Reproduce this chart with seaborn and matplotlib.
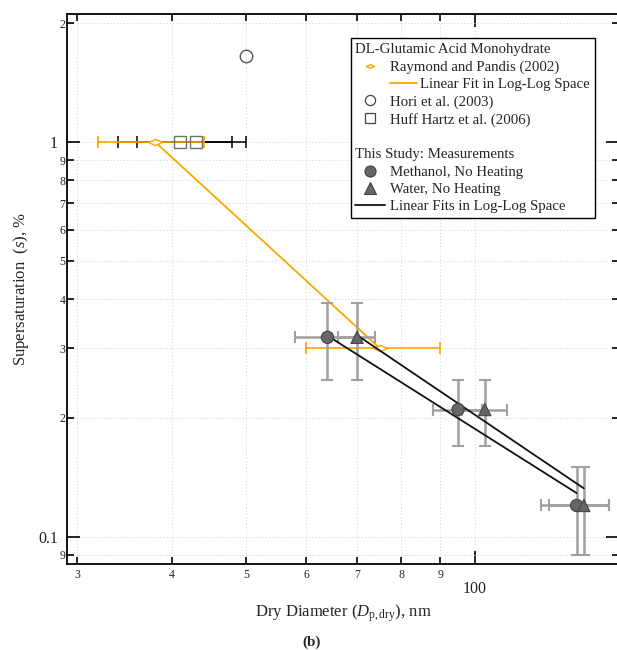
import numpy as np
import pandas as pd
import matplotlib
matplotlib.use("Agg")
import matplotlib.pyplot as plt
import seaborn as sns
from matplotlib.lines import Line2D
from matplotlib.path import Path
from matplotlib.ticker import FixedLocator, FixedFormatter

# ---- data -------------------------------------------------------------
# Raymond and Pandis (2002)
rp_diam = [38, 75]
rp_ss = [1.0, 0.30]
rp_xerr = [6, 15]
rp_fit_diam = [38, 75]
rp_fit_ss = [1.0, 0.30]

# Hori et al. (2003)
hori_diam = [50]
hori_ss = [1.65]

# Huff Hartz et al. (2006)
hh_diam = [41, 43]
hh_ss = [1.0, 1.0]
hh_xerr = [7, 7]

# This study: methanol and water atomized, no heating
meth_diam = [64, 95, 136]
meth_ss = [0.32, 0.21, 0.12]
meth_xerr = [6, 7, 14]
meth_yerr = [0.07, 0.04, 0.03]

water_diam = [70, 103, 139]
water_ss = [0.32, 0.21, 0.12]
water_xerr_lo = [4, 7, 14]
water_xerr_hi = [4, 7, 11]
water_yerr = [0.07, 0.04, 0.03]

# linear fits in log-log space (end points)
meth_fit_diam = [64, 136]
meth_fit_ss = [0.323, 0.129]
water_fit_diam = [70, 139]
water_fit_ss = [0.324, 0.1326]

# axis ticks
x_major_ticks = [100]
x_major_labels = ["100"]
x_minor_ticks = [30, 40, 50, 60, 70, 80, 90]
x_minor_labels = ["3", "4", "5", "6", "7", "8", "9"]
y_major_ticks = [0.1, 1]
y_major_labels = ["0.1", "1"]
y_minor_ticks = [0.09, 0.2, 0.3, 0.4, 0.5, 0.6, 0.7, 0.8, 0.9, 2]
y_minor_labels = ["9", "2", "3", "4", "5", "6", "7", "8", "9", "2"]

# ---- style ------------------------------------------------------------
sns.set_style("ticks")
plt.rcParams["font.family"] = ["Liberation Serif", "DejaVu Serif"]
plt.rcParams["mathtext.fontset"] = "custom"
plt.rcParams["mathtext.rm"] = "Liberation Serif"
plt.rcParams["mathtext.it"] = "Liberation Serif:italic"
plt.rcParams["mathtext.bf"] = "Liberation Serif:bold"

ORANGE = "#FFA500"
GRAY_ERR = "#a0a0a0"
MARK_FILL = "#666666"
MARK_EDGE = "#444444"

# flat open diamond used for Raymond and Pandis
diamond = Path([(-1, 0), (0, 0.43), (1, 0), (0, -0.43), (-1, 0)],
               [Path.MOVETO, Path.LINETO, Path.LINETO, Path.LINETO, Path.CLOSEPOLY])

fig = plt.figure(figsize=(6.17, 6.5), dpi=100)
ax = fig.add_axes([67 / 617, 1 - 564 / 650, (619 - 67) / 617, (564 - 14) / 650])
ax.set_xscale("log")
ax.set_yscale("log")
ax.set_xlim(29.1, 154.6)
ax.set_ylim(0.0853, 2.11)

# ---- literature data --------------------------------------------------
ax.errorbar(hh_diam, hh_ss, xerr=hh_xerr, fmt="none", ecolor="black",
            elinewidth=1.1, capsize=4.6, capthick=1.1, zorder=2)
ax.errorbar(rp_diam, rp_ss, xerr=rp_xerr, fmt="none", ecolor=ORANGE,
            elinewidth=1.2, capsize=4.4, capthick=1.2, zorder=3)
sns.lineplot(x=rp_fit_diam, y=rp_fit_ss, color=ORANGE, lw=1.3, ax=ax,
             zorder=3, legend=False)
ax.plot(rp_diam, rp_ss, ls="none", marker=diamond, ms=10.2, mfc="white",
        mec=ORANGE, mew=1.0, zorder=4)
ax.plot(hh_diam, hh_ss, ls="none", marker="s", ms=8.2, mfc="none",
        mec="#707070", mew=1.0, zorder=4)
ax.plot(hori_diam, hori_ss, ls="none", marker="o", ms=9.0, mfc="none",
        mec="#555555", mew=1.0, zorder=4)

# ---- this study -------------------------------------------------------
ax.errorbar(meth_diam, meth_ss, xerr=meth_xerr, yerr=meth_yerr, fmt="none",
            ecolor=GRAY_ERR, elinewidth=1.8, capsize=4.6, capthick=1.5, zorder=3)
ax.errorbar(water_diam, water_ss, xerr=[water_xerr_lo, water_xerr_hi],
            yerr=water_yerr, fmt="none", ecolor=GRAY_ERR, elinewidth=1.8,
            capsize=4.6, capthick=1.5, zorder=3)
sns.lineplot(x=meth_fit_diam, y=meth_fit_ss, color="#111111", lw=1.3, ax=ax,
             zorder=4, legend=False)
sns.lineplot(x=water_fit_diam, y=water_fit_ss, color="#111111", lw=1.3, ax=ax,
             zorder=4, legend=False)

study = pd.DataFrame({
    "diam": meth_diam + water_diam,
    "ss": meth_ss + water_ss,
    "series": ["Methanol"] * len(meth_diam) + ["Water"] * len(water_diam),
})
sns.scatterplot(data=study, x="diam", y="ss", style="series",
                markers={"Methanol": "o", "Water": "^"}, color=MARK_FILL,
                edgecolor=MARK_EDGE, linewidth=0.8, s=78, legend=False,
                ax=ax, zorder=5)

# ---- axes decoration --------------------------------------------------
ax.xaxis.set_major_locator(FixedLocator(x_major_ticks))
ax.xaxis.set_major_formatter(FixedFormatter(x_major_labels))
ax.xaxis.set_minor_locator(FixedLocator(x_minor_ticks))
ax.xaxis.set_minor_formatter(FixedFormatter(x_minor_labels))
ax.yaxis.set_major_locator(FixedLocator(y_major_ticks))
ax.yaxis.set_major_formatter(FixedFormatter(y_major_labels))
ax.yaxis.set_minor_locator(FixedLocator(y_minor_ticks))
ax.yaxis.set_minor_formatter(FixedFormatter(y_minor_labels))

ax.grid(which="both", ls=(0, (1.2, 2.2)), color="#d6d6d6", lw=0.7)
ax.set_axisbelow(True)
for sp in ax.spines.values():
    sp.set_visible(True)
    sp.set_linewidth(1.3)
    sp.set_color("black")

ax.tick_params(which="both", direction="in", top=True, right=True,
               width=1.2, color="black", labelcolor="#222222")
ax.tick_params(which="major", length=9.5, labelsize=11.5)
ax.tick_params(which="minor", length=4.8, labelsize=8.5)
ax.tick_params(axis="x", which="major", pad=12)
ax.tick_params(axis="x", which="minor", pad=3.5)
ax.tick_params(axis="y", which="major", pad=6.5)
ax.tick_params(axis="y", which="minor", pad=1.2)

ax.set_xlabel(r"Dry Diameter ($D_{\mathrm{p,dry}}$), nm", fontsize=12)
ax.set_ylabel(r"Supersaturation  ($s$), %", fontsize=12)
ax.xaxis.set_label_coords(0.5, -0.09)
ax.xaxis.label.set_va("center")
ax.yaxis.set_label_coords(-0.083, 0.5)
ax.yaxis.label.set_va("center")

fig.text(312 / 617, 1 - 642 / 650, "(b)", ha="center", va="center",
         fontsize=11, fontweight="bold")

# ---- legend -----------------------------------------------------------
blank = Line2D([], [], ls="none")
handles = [
    blank,
    Line2D([], [], ls="none", marker=diamond, ms=6.0, mfc="white", mec=ORANGE, mew=1.0),
    Line2D([], [], color=ORANGE, lw=1.3),
    Line2D([], [], ls="none", marker="o", ms=7.3, mfc="none", mec="#444444", mew=0.9),
    Line2D([], [], ls="none", marker="s", ms=6.8, mfc="none", mec="#444444", mew=0.9),
    blank,
    blank,
    Line2D([], [], ls="none", marker="o", ms=8.0, mfc=MARK_FILL, mec=MARK_EDGE, mew=0.8),
    Line2D([], [], ls="none", marker="^", ms=8.0, mfc=MARK_FILL, mec=MARK_EDGE, mew=0.8),
    Line2D([], [], color="#111111", lw=1.3),
]
labels = [
    "DL-Glutamic Acid Monohydrate",
    "Raymond and Pandis (2002)",
    "        Linear Fit in Log-Log Space",
    "Hori et al. (2003)",
    "Huff Hartz et al. (2006)",
    " ",
    "This Study: Measurements",
    "Methanol, No Heating",
    "Water, No Heating",
    "Linear Fits in Log-Log Space",
]
LEG_FS = 10.7
HLEN, HPAD = 1.96, 0.39
leg = ax.legend(handles, labels, loc="upper left",
                bbox_to_anchor=(350.7 / 617, 1 - 38.3 / 650),
                bbox_transform=fig.transFigure, borderaxespad=0,
                fontsize=LEG_FS, handlelength=HLEN, handletextpad=HPAD,
                borderpad=0.32, labelspacing=0.265, frameon=True,
                fancybox=False, framealpha=1, edgecolor="black",
                facecolor="white")
leg.get_frame().set_linewidth(1.0)
leg.set_zorder(10)

# section headers start at the handle column
px = fig.dpi / 72.0
shift_px = (HLEN + HPAD) * LEG_FS * px
for i in (0, 6):
    leg.get_texts()[i].set_x(-shift_px)
# the literature fit line sits in the text column
fit_line = leg.legend_handles[2]
xd = np.asarray(fit_line.get_xdata(), dtype=float)
yd = np.asarray(fit_line.get_ydata(), dtype=float)
x0 = xd.min() + (HLEN + HPAD) * LEG_FS
fit_line.set_data([x0, x0 + 19.0], [yd[0], yd[0]])

fig.savefig("out.png", dpi=100)
